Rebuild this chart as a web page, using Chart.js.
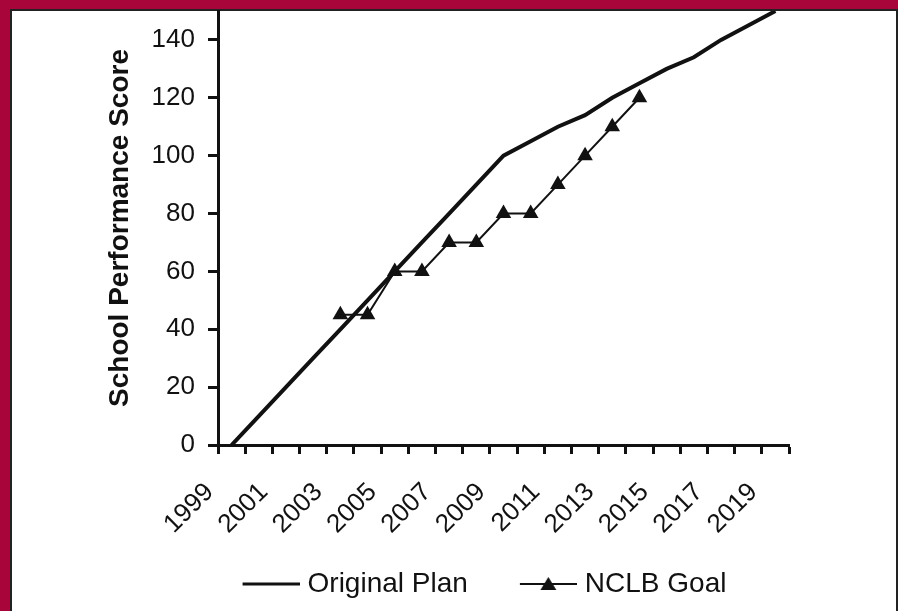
<!DOCTYPE html>
<html>
<head>
<meta charset="utf-8">
<script src="https://cdn.jsdelivr.net/npm/chart.js@4/dist/chart.umd.min.js"></script>
<style>
  html, body { margin: 0; padding: 0; }
  body { width: 898px; height: 611px; background: #a8063a; position: relative; overflow: hidden; }
  #frame { position: absolute; left: 10px; top: 9px; width: 884px; height: 610px;
           background: #fff; border: 2px solid #222; border-bottom: none; }
  #wrap { position: absolute; left: 0; top: 0; width: 898px; height: 611px; }
</style>
</head>
<body>
<div id="frame"></div>
<div id="wrap"><canvas id="chart" width="898" height="611"></canvas></div>
<script>
// categories (years) and series values
var years = ['1999', '2000', '2001', '2002', '2003', '2004', '2005', '2006', '2007', '2008', '2009',
             '2010', '2011', '2012', '2013', '2014', '2015', '2016', '2017', '2018', '2019'];
var originalPlan = [0, 10, 20, 30, 40, 50, 60, 70, 80, 90, 100,
                    105, 110, 114, 120, 125, 130, 134, 140, 145, 150];
var nclbGoal = [null, null, null, null, 45, 45, 60, 60, 70, 70, 80,
                80, 90, 100, 110, 120, null, null, null, null, null];
var yTicks = [0, 20, 40, 60, 80, 100, 120, 140];

var ink = '#111';
var fontFamily = '"Liberation Sans", Arial, sans-serif';

// legend pictures: blank space on the left, then a line (with a triangle for NCLB)
var iconW = 93;
var lineW = 57;
function legendIcon(withTriangle) {
    var c = document.createElement('canvas');
    c.width = iconW + 12;
    c.height = 16;
    var g = c.getContext('2d');
    var x1 = c.width;
    var x0 = x1 - lineW;
    g.strokeStyle = ink;
    g.lineWidth = withTriangle ? 2 : 3;
    g.beginPath();
    g.moveTo(x0, 8);
    g.lineTo(x1, 8);
    g.stroke();
    if (withTriangle) {
        var cx = x0 + lineW / 2;
        g.fillStyle = ink;
        g.beginPath();
        g.moveTo(cx, 1);
        g.lineTo(cx + 8, 14);
        g.lineTo(cx - 8, 14);
        g.closePath();
        g.fill();
    }
    return c;
}
var icons = [legendIcon(false), legendIcon(true)];

// nudge the legend to the right after layout
var legendShift = {
    id: 'legendShift',
    afterLayout: function(chart) {
        if (chart.legend) {
            chart.legend.left += 19;
            chart.legend.right += 19;
        }
    }
};

var ctx = document.getElementById('chart').getContext('2d');
var myChart = new Chart(ctx, {
    type: 'line',
    data: {
        labels: years,
        datasets: [{
            label: 'Original Plan',
            data: originalPlan,
            borderColor: ink,
            borderWidth: 4,
            pointRadius: 0,
            tension: 0,
            fill: false
        },
        {
            label: 'NCLB Goal',
            data: nclbGoal,
            borderColor: ink,
            backgroundColor: ink,
            borderWidth: 2,
            pointStyle: 'triangle',
            pointRadius: 9,
            pointBackgroundColor: ink,
            pointBorderColor: ink,
            pointBorderWidth: 0,
            tension: 0,
            fill: false,
            spanGaps: false
        }]
    },
    plugins: [legendShift],
    options: {
        responsive: false,
        animation: false,
        layout: { padding: { left: 100, right: 109, top: 11, bottom: 3 } },
        plugins: {
            tooltip: { enabled: false },
            legend: {
                position: 'bottom',
                labels: {
                    color: ink,
                    font: { family: fontFamily, size: 28 },
                    usePointStyle: true,
                    pointStyleWidth: iconW,
                    padding: 10,
                    generateLabels: function(chart) {
                        var items = Chart.defaults.plugins.legend.labels.generateLabels(chart);
                        items.forEach(function(item, i) {
                            item.pointStyle = icons[i];
                        });
                        return items;
                    }
                }
            }
        },
        scales: {
            x: {
                type: 'category',
                offset: true,
                afterFit: function(scale) {
                    scale.height = 115;
                    scale.paddingLeft = 0;
                    scale.paddingRight = 0;
                },
                grid: {
                    offset: true,
                    drawOnChartArea: false,
                    drawTicks: true,
                    tickLength: 9,
                    tickWidth: 3,
                    tickColor: ink
                },
                border: { display: true, color: ink, width: 3 },
                ticks: {
                    autoSkip: false,
                    maxRotation: 45,
                    minRotation: 45,
                    padding: 23,
                    labelOffset: -22,
                    color: ink,
                    font: { family: fontFamily, size: 26 },
                    callback: function(value, index) {
                        return index % 2 === 0 ? years[index] : '';
                    }
                }
            },
            y: {
                min: 0,
                max: 150,
                afterFit: function(scale) {
                    scale.width = 118;
                    scale.paddingTop = 0;
                    scale.paddingBottom = 0;
                },
                afterBuildTicks: function(scale) {
                    scale.ticks = yTicks.map(function(v) { return { value: v }; });
                },
                grid: {
                    drawOnChartArea: false,
                    drawTicks: true,
                    tickLength: 10,
                    tickWidth: 3,
                    tickColor: ink
                },
                border: { display: true, color: ink, width: 3 },
                ticks: {
                    padding: 13,
                    color: ink,
                    font: { family: fontFamily, size: 26 }
                },
                title: {
                    display: true,
                    text: 'School Performance Score',
                    color: ink,
                    padding: { top: 3, bottom: 0 },
                    font: { family: fontFamily, size: 28, weight: 'bold' }
                }
            }
        }
    }
});
</script>
</body>
</html>
